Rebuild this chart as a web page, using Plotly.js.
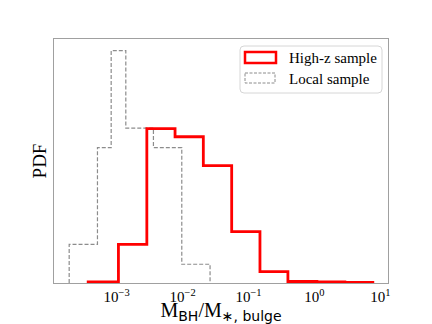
<!DOCTYPE html>
<html>
<head>
<meta charset="utf-8">
<script src="https://cdn.plot.ly/plotly-3.0.1.min.js"></script>
<style>
  html, body { margin: 0; padding: 0; background: #fff; }
  #chart { width: 432px; height: 324px; }
</style>
</head>
<body>
<div id="chart"></div>
<script>
// bin edges are log10(M_BH / M_*,bulge), heights are PDF per dex
const highzEdgesLog = [-3.432, -2.973, -2.542, -2.114, -1.685, -1.255, -0.826, -0.402, 0.038, 0.462, 0.886];
const highzPdf = [0.0044, 0.171, 0.683, 0.647, 0.519, 0.227, 0.050, 0.0066, 0.0044, 0.0022];

const localEdgesLog = [-3.720, -3.291, -3.083, -2.861, -2.442, -2.012, -1.583];
const localPdf = [0.171, 0.599, 1.028, 0.685, 0.599, 0.083];

const tickVals = [1e-3, 1e-2, 1e-1, 1, 10];
const tickText = ["10<sup>−3</sup>", "10<sup>−2</sup>", "10<sup>−1</sup>", "10<sup>0</sup>", "10<sup>1</sup>"];

const legendNames = ["High-z sample", "Local sample"];

// outline of a step histogram: up at the first edge, across each bin, down at the last edge
function stepOutline(edgesLog, heights) {
  const edges = edgesLog.map(e => Math.pow(10, e));
  return {
    x: [edges[0]].concat(edges),
    y: [0].concat(heights, [0])
  };
}

const hz = stepOutline(highzEdgesLog, highzPdf);
const loc = stepOutline(localEdgesLog, localPdf);

const serif = "Liberation Serif, Times New Roman, serif";

const traces = [
  {
    x: loc.x, y: loc.y,
    type: "scatter", mode: "lines",
    line: { shape: "hv", color: "#8c8c8c", width: 1.2, dash: "4px,2px" },
    name: legendNames[1],
    showlegend: false,
    hoverinfo: "skip"
  },
  {
    x: hz.x, y: hz.y,
    type: "scatter", mode: "lines",
    line: { shape: "hv", color: "#ff0000", width: 2.8 },
    name: legendNames[0],
    showlegend: false,
    hoverinfo: "skip"
  }
];

const allEdges = highzEdgesLog.concat(localEdgesLog);
const lo = Math.min(...allEdges), hi = Math.max(...allEdges);
const pad = 0.05 * (hi - lo);
const ymax = 1.05 * Math.max(...highzPdf, ...localPdf);

// legend drawn by hand so the keys are open rectangles like the original
const pix = { xsizemode: "pixel", ysizemode: "pixel", xref: "paper", yref: "paper", xanchor: 1, yanchor: 1 };
const r = 4, L = -148, R = -6, T = -7, B = -54;
const boxPath = `M${L + r},${T} L${R - r},${T} Q${R},${T} ${R},${T - r} L${R},${B + r} Q${R},${B} ${R - r},${B} ` +
                `L${L + r},${B} Q${L},${B} ${L},${B + r} L${L},${T - r} Q${L},${T} ${L + r},${T} Z`;

const shapes = [
  Object.assign({ type: "path", path: boxPath, line: { color: "#d6d6d6", width: 1 }, fillcolor: "rgba(255,255,255,0.8)" }, pix),
  Object.assign({ type: "rect", x0: -143, x1: -112, y0: -13, y1: -24, line: { color: "#ff0000", width: 2.5 } }, pix),
  Object.assign({ type: "rect", x0: -143, x1: -113, y0: -34, y1: -44, line: { color: "#8c8c8c", width: 1, dash: "3px,1.5px" } }, pix)
];

const annotations = legendNames.map((name, i) => ({
  text: name,
  xref: "paper", yref: "paper",
  x: 1, y: 1,
  xshift: -101, yshift: i === 0 ? -19 : -40,
  xanchor: "left", yanchor: "middle",
  showarrow: false,
  font: { family: serif, size: 15, color: "#000" }
}));

const layout = {
  width: 432,
  height: 324,
  margin: { l: 54, r: 44, t: 39, b: 41 },
  paper_bgcolor: "#fff",
  plot_bgcolor: "#fff",
  showlegend: false,
  xaxis: {
    type: "log",
    range: [lo - pad, hi + pad],
    tickvals: tickVals,
    ticktext: tickText,
    ticks: "",
    showgrid: false,
    zeroline: false,
    showline: true,
    mirror: true,
    linecolor: "#a0a0a0",
    linewidth: 1.3,
    tickfont: { family: serif, size: 15, color: "#000" },
    title: {
      text: "M<sub><span style='font-family:DejaVu Sans'>BH</span></sub>/M<sub><span style='font-family:DejaVu Sans'>∗, bulge</span></sub>",
      font: { family: serif, size: 20, color: "#000" },
      standoff: 6
    }
  },
  yaxis: {
    range: [0, ymax],
    showticklabels: false,
    ticks: "",
    showgrid: false,
    zeroline: false,
    showline: true,
    mirror: true,
    linecolor: "#a0a0a0",
    linewidth: 1.3,
    title: {
      text: "PDF",
      font: { family: serif, size: 19, color: "#000" },
      standoff: 1
    }
  },
  shapes: shapes,
  annotations: annotations
};

Plotly.newPlot("chart", traces, layout, { displayModeBar: false, staticPlot: true });
</script>
</body>
</html>
